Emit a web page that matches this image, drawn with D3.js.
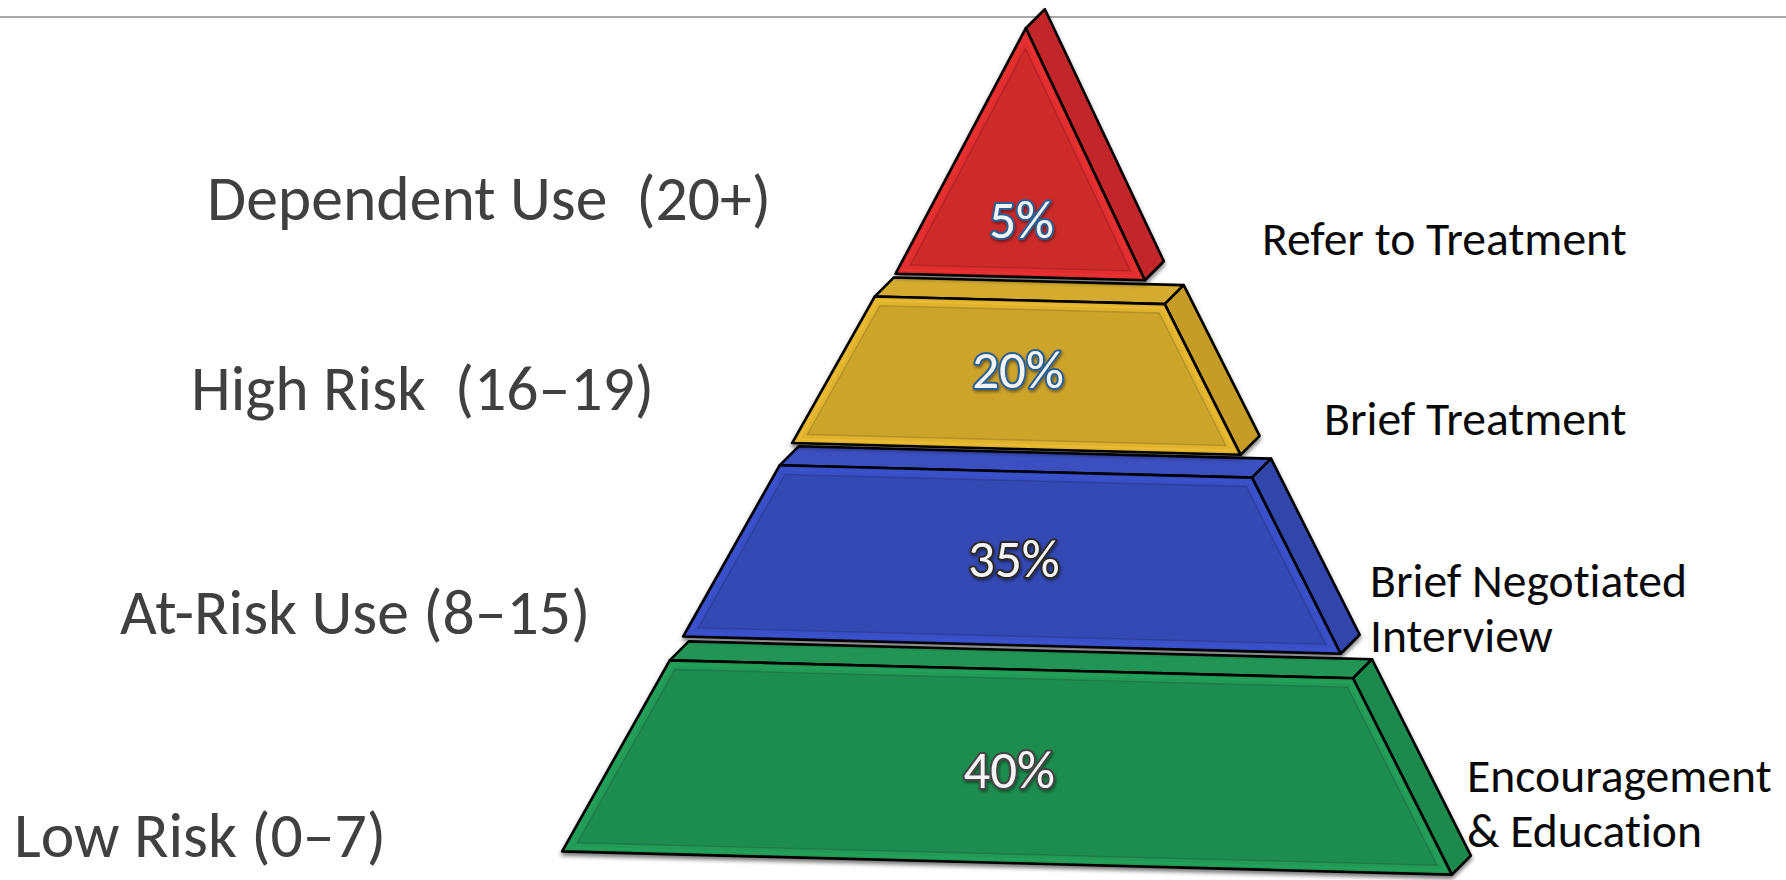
<!DOCTYPE html>
<html><head><meta charset="utf-8">
<script src="https://cdn.jsdelivr.net/npm/d3@7"></script>
<style>html,body{margin:0;padding:0;background:#fff;} svg{display:block} text{font-variant-ligatures:none;font-feature-settings:"liga" 0,"clig" 0;}</style>
</head><body>
<svg id="chart" width="1786" height="880"></svg>
<script>
// ---------------- data ----------------
const tierNames = ["Dependent Use", "High Risk", "At-Risk Use", "Low Risk"];
const leftLabels = ["Dependent Use  (20+)", "High Risk  (16–19)", "At-Risk Use (8–15)", "Low Risk (0–7)"];
const shares = [5, 20, 35, 40];
const shareLabels = ["5%", "20%", "35%", "40%"];
const interventions = [["Refer to Treatment"], ["Brief Treatment"], ["Brief Negotiated", "Interview"], ["Encouragement", "& Education"]];

// ---------------- layout / style ----------------
const W = 1786, H = 880;
const bandT = [[0, 0.298], [0.326, 0.504], [0.531, 0.739], [0.768, 1]];
const apexY = 28, baseY = 863, axisX = 1007, baseHalf = 445, tiltDeg = 1.5, apexSkew = -3, capNarrow = 0.94;
const depth = [19, -19];
const bevel = 9;
const frontColors = ["#cd2a2b", "#cda42b", "#3448b5", "#1f8d50"];
const topColors   = ["#d22e2f", "#d4ab2e", "#3a4fc0", "#239557"];
const sideColors  = ["#c2282b", "#c49c28", "#3044aa", "#1e894d"];
const pctStroke   = ["#2c5f94", "#2c5f94", "#2a2a2a", "#444444"];
const pctShiftY   = [0, -6, 0, 3];
const leftPos  = [{x:207,y:220,w:563},{x:191,y:410,w:464},{x:120,y:634,w:472},{x:14,y:857,w:371}];
const rightPos = [{x:1262,y:255,w:365},{x:1324,y:435,w:303},{x:1370,y:597,w:316},{x:1467,y:792,w:305}];
const rightLineGap = 55;
const fontFam = "Carlito, Lato, 'Open Sans', sans-serif";

const svg = d3.select("#chart");
const defs = svg.append("defs");
const f = defs.append("filter").attr("id","shadow").attr("x","-10%").attr("y","-10%").attr("width","120%").attr("height","130%");
f.append("feDropShadow").attr("dx",0).attr("dy",3).attr("stdDeviation",2.2).attr("flood-color","#000").attr("flood-opacity",0.55);
const tf = defs.append("filter").attr("id","tshadow").attr("x","-20%").attr("y","-20%").attr("width","140%").attr("height","150%");
tf.append("feDropShadow").attr("dx",1).attr("dy",2).attr("stdDeviation",1.5).attr("flood-color","#000").attr("flood-opacity",0.45);

// top rule
svg.append("line").attr("x1",0).attr("x2",W).attr("y1",17).attr("y2",17)
  .attr("stroke","#a8a8a8").attr("stroke-width",2);

// scales
const yT = d3.scaleLinear().domain([0,1]).range([apexY, baseY]);
const halfT = d3.scaleLinear().domain([0,1]).range([0, baseHalf]);
const skewT = d3.scaleLinear().domain([0,1]).range([apexSkew, 0]);
const th = tiltDeg*Math.PI/180, cs = Math.cos(th), sn = Math.sin(th);
const piv = [axisX, baseY];
function rot(p){ const dx=p[0]-piv[0], dy=p[1]-piv[1]; return [piv[0]+dx*cs-dy*sn, piv[1]+dx*sn+dy*cs]; }
function pt(t, side, k){ return rot([axisX + skewT(t) + side*halfT(t)*(k||1), yT(t)]); }
function add(p, d){ return [p[0]+d[0], p[1]+d[1]]; }

function inset(poly, k){
  const n = poly.length; let a = 0;
  for (let i=0;i<n;i++){ const p=poly[i], q=poly[(i+1)%n]; a += p[0]*q[1]-q[0]*p[1]; }
  const s = a>0?1:-1;
  const lines = poly.map((p,i)=>{ const q=poly[(i+1)%n]; const dx=q[0]-p[0], dy=q[1]-p[1]; const L=Math.hypot(dx,dy);
    const nx = s*(-dy)/L, ny = s*dx/L; return {p:[p[0]+k*nx, p[1]+k*ny], d:[dx,dy]}; });
  return poly.map((_,i)=>{ const l1=lines[(i-1+n)%n], l2=lines[i];
    const cr = l1.d[0]*l2.d[1]-l1.d[1]*l2.d[0];
    const wx = l2.p[0]-l1.p[0], wy = l2.p[1]-l1.p[1];
    const t = (wx*l2.d[1]-wy*l2.d[0])/cr;
    return [l1.p[0]+t*l1.d[0], l1.p[1]+t*l1.d[1]]; });
}
const line = d3.line();
const closed = pts => line(pts) + "Z";

const tiers = shares.map((v,i)=>{
  const [t0,t1] = bandT[i];
  let front;
  if (t0===0) front = [pt(0,0), pt(t1,1,capNarrow), pt(t1,-1,capNarrow)];
  else front = [pt(t0,-1), pt(t0,1), pt(t1,1), pt(t1,-1)];
  return {i, v, t0, t1, front};
});

const pyr = svg.append("g");
const order = tiers.slice().reverse();
order.forEach(d=>{
  const g = pyr.append("g").attr("filter","url(#shadow)");
  const fr = d.front;
  let topPts=null, sidePts;
  if (fr.length===3){
    sidePts = [fr[0], add(fr[0],depth), add(fr[1],depth), fr[1]];
  } else {
    topPts = [fr[0], add(fr[0],depth), add(fr[1],depth), fr[1]];
    sidePts = [fr[1], add(fr[1],depth), add(fr[2],depth), fr[2]];
  }
  if (topPts) g.append("path").attr("d",closed(topPts)).attr("fill",topColors[d.i]).attr("stroke","#000").attr("stroke-width",2.6).attr("stroke-linejoin","round");
  g.append("path").attr("d",closed(sidePts)).attr("fill",sideColors[d.i]).attr("stroke","#000").attr("stroke-width",2.6).attr("stroke-linejoin","round");
  const base = d3.color(frontColors[d.i]);
  g.append("path").attr("d",closed(fr)).attr("fill",base.brighter(0.25)).attr("stroke","#000").attr("stroke-width",2.6).attr("stroke-linejoin","round");
  const inner = inset(fr, bevel);
  const mid = inset(fr, bevel*0.45);
  g.append("path").attr("d",closed(mid)).attr("fill","none").attr("stroke",base.brighter(0.5)).attr("stroke-width",2).attr("stroke-opacity",0.5);
  g.append("path").attr("d",closed(inner)).attr("fill",base.toString()).attr("stroke",base.darker(0.9)).attr("stroke-width",1.4).attr("stroke-opacity",0.5);
});

// percent labels
const pctG = svg.append("g");
tiers.forEach(d=>{
  const tl = d.t0===0 ? d.t0 + 0.765*(d.t1-d.t0) : (d.t0+d.t1)/2;
  const p = rot([axisX + skewT(tl), yT(tl)]);
  pctG.append("text").attr("x",p[0]).attr("y",p[1] + pctShiftY[d.i]).attr("dy","0.36em")
    .attr("text-anchor","middle").attr("font-family",fontFam).attr("font-size",53).attr("font-weight",500)
    .attr("fill","#f4f4f4").attr("stroke",pctStroke[d.i]).attr("stroke-width",4)
    .attr("paint-order","stroke").attr("stroke-linejoin","round").attr("filter","url(#tshadow)")
    .text(shareLabels[d.i]);
});

// fit helper
function fitGroup(sel, targets, base){
  const nodes = sel.nodes();
  let r = 0;
  nodes.forEach((n,i)=>{ r += targets[i] / n.getComputedTextLength(); });
  r /= nodes.length;
  sel.attr("font-size", base*r);
}

const leftT = svg.append("g").selectAll("text").data(leftLabels).join("text")
  .attr("x",(d,i)=>leftPos[i].x).attr("y",(d,i)=>leftPos[i].y)
  .attr("font-family",fontFam).attr("font-size",60).attr("fill","#404040")
  .style("white-space","pre").text(d=>d);
fitGroup(leftT, leftPos.map(p=>p.w), 60);

const rightG = svg.append("g");
const firstLines = [];
interventions.forEach((lines,i)=>{
  lines.forEach((s,j)=>{
    const t = rightG.append("text").attr("x",rightPos[i].x).attr("y",rightPos[i].y + j*rightLineGap)
      .attr("font-family",fontFam).attr("font-size",42).attr("fill","#0a0a0a").text(s);
    if (j===0) firstLines.push(t.node());
  });
});
(function(){
  let r=0; firstLines.forEach((n,i)=>{ r += rightPos[i].w / n.getComputedTextLength(); }); r/=firstLines.length;
  rightG.selectAll("text").attr("font-size", 42*r);
})();
</script>
</body></html>
